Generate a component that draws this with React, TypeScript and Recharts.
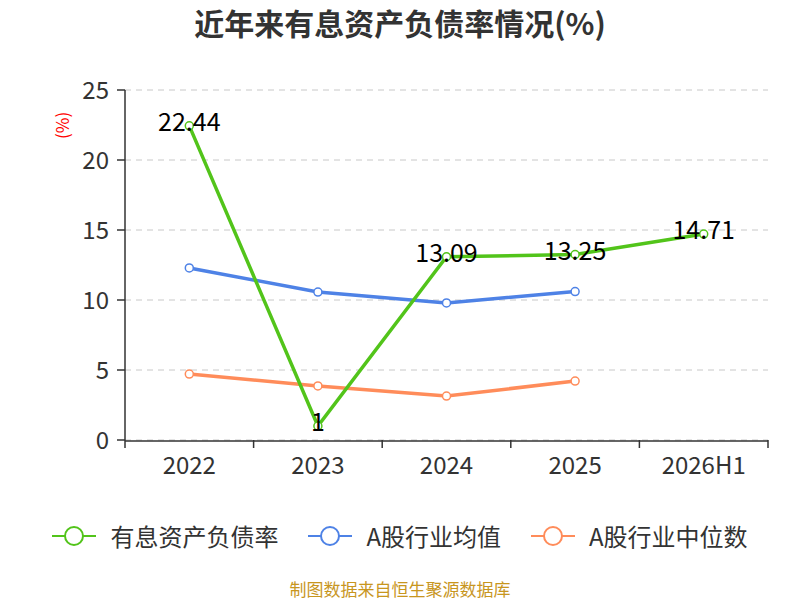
import React from 'react'
import { LineChart, Line, XAxis, YAxis, CartesianGrid, LabelList } from 'recharts'

const years = ['2022', '2023', '2024', '2025', '2026H1']
const debtRatio = [22.44, 1, 13.09, 13.25, 14.71]
const industryAvg = [12.29, 10.57, 9.79, 10.6, null]
const industryMedian = [4.71, 3.86, 3.14, 4.21, null]
const yTicks = [0, 5, 10, 15, 20, 25]
const bandEdges = [0, 1, 2, 3, 4, 5]

const GREEN = '#52c41a'
const BLUE = '#4e82e6'
const ORANGE = '#ff8c5a'
const FONT = '"Noto Sans CJK SC", "Noto Sans", sans-serif'

const data = years.map((y, i) => ({
  year: y,
  idx: i + 0.5,
  debt: debtRatio[i],
  avg: industryAvg[i],
  median: industryMedian[i],
}))

const legendItems = [
  { name: '有息资产负债率', color: GREEN },
  { name: 'A股行业均值', color: BLUE },
  { name: 'A股行业中位数', color: ORANGE },
]

const ValueLabel = (props: any) => {
  const { x, y, value } = props
  return (
    <text x={x} y={y - 6} textAnchor="middle" dominantBaseline="central" fontSize={25} fill="#000" fontFamily={FONT}>
      {value}
    </text>
  )
}

// tick mark at each band edge, drawn below the axis line
const EdgeTick = (props: any) => {
  const { x, y } = props
  return <line x1={x} x2={x} y1={y} y2={y + 8} stroke="#333" strokeWidth={1.5} />
}

const dotStyle = (color: string) => ({ r: 4, fill: '#fff', stroke: color, strokeWidth: 1.5 })

export default function App() {
  return (
    <div style={{ position: 'absolute', left: 0, top: 0, width: 800, height: 600, background: '#fff', fontFamily: FONT, overflow: 'hidden' }}>
      <div style={{ position: 'absolute', top: 2, width: 800, textAlign: 'center', fontSize: 30, fontWeight: 'bold', color: '#333', lineHeight: '40px' }}>
        近年来有息资产负债率情况(%)
      </div>
      <LineChart width={800} height={600} data={data} margin={{ top: 90, right: 32, bottom: 129, left: 0 }}>
        <CartesianGrid xAxisId={1} vertical={false} stroke="#c8c8c8" strokeDasharray="6 5" />
        <XAxis
          xAxisId={0}
          type="number"
          dataKey="idx"
          domain={[0, 5]}
          ticks={bandEdges}
          tick={EdgeTick}
          height={1}
          axisLine={false}
          tickLine={false}
          tickSize={0}
          tickMargin={0}
        />
        <XAxis
          xAxisId={1}
          dataKey="year"
          scale="band"
          height={30}
          tick={{ fill: '#333', fontSize: 24 }}
          tickLine={false}
          axisLine={{ stroke: '#333', strokeWidth: 1.5 }}
          tickMargin={10}
        />
        <YAxis
          width={125}
          domain={[0, 25]}
          ticks={yTicks}
          tick={{ fill: '#333', fontSize: 24 }}
          tickLine={{ stroke: '#333', strokeWidth: 1.5 }}
          axisLine={{ stroke: '#333', strokeWidth: 1.5 }}
          tickSize={8}
          tickMargin={8}
          label={{ value: '(%)', angle: -90, position: 'insideTopLeft', dx: 52, dy: 44, fill: '#f00', fontSize: 17 }}
        />
        <Line xAxisId={1} dataKey="median" stroke={ORANGE} strokeWidth={3.5} dot={dotStyle(ORANGE)} isAnimationActive={false} />
        <Line xAxisId={1} dataKey="avg" stroke={BLUE} strokeWidth={3.5} dot={dotStyle(BLUE)} isAnimationActive={false} />
        <Line xAxisId={1} dataKey="debt" stroke={GREEN} strokeWidth={3.5} dot={dotStyle(GREEN)} isAnimationActive={false}>
          <LabelList dataKey="debt" content={ValueLabel} />
        </Line>
      </LineChart>
      <div style={{ position: 'absolute', top: 518, left: 0, width: 800, display: 'flex', justifyContent: 'center', gap: 30, fontSize: 24, color: '#333' }}>
        {legendItems.map((it) => (
          <div key={it.name} style={{ display: 'flex', alignItems: 'center', gap: 14 }}>
            <svg width={44} height={24}>
              <line x1={0} y1={12} x2={44} y2={12} stroke={it.color} strokeWidth={2} />
              <circle cx={22} cy={12} r={9} fill="#fff" stroke={it.color} strokeWidth={2} />
            </svg>
            <span>{it.name}</span>
          </div>
        ))}
      </div>
      <div style={{ position: 'absolute', top: 580, width: 800, height: 18, textAlign: 'center', fontSize: 17, lineHeight: '18px', color: '#c8961e' }}>
        制图数据来自恒生聚源数据库
      </div>
    </div>
  )
}
